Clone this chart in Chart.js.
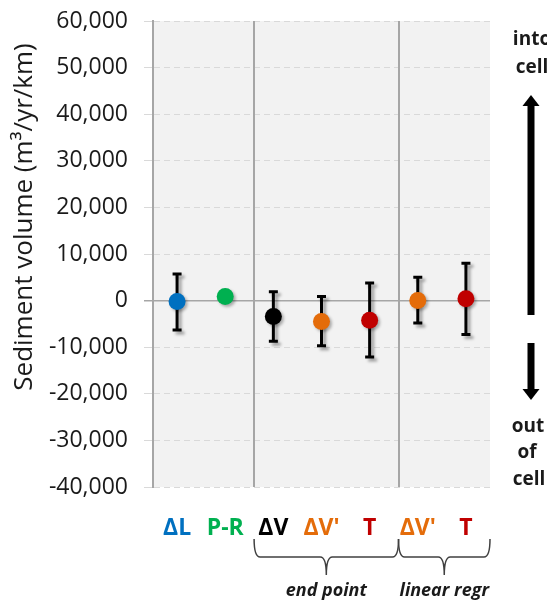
<!DOCTYPE html>
<html>
<head>
<meta charset="utf-8">
<script src="https://cdn.jsdelivr.net/npm/chart.js@4.4.0/dist/chart.umd.min.js"></script>
<style>
    html, body { margin: 0; padding: 0; background: #fff; }
    #wrap { width: 547px; height: 601px; }
</style>
</head>
<body>
<div id="wrap"><canvas id="myChart"></canvas></div>
<script>
    // 数据
    var categories = ['ΔL', 'P-R', 'ΔV', "ΔV'", 'T', "ΔV'", 'T'];
    var labelColors = ['#0070c0', '#00b050', '#000000', '#e46c0a', '#c00000', '#e46c0a', '#c00000'];
    var volume = [-200, 900, -3400, -4500, -4200, 0, 400];
    var errHigh = [5700, null, 1900, 900, 3800, 5000, 8000];
    var errLow = [-6300, null, -8700, -9700, -12100, -4800, -7300];
    var yTicks = [-40000, -30000, -20000, -10000, 0, 10000, 20000, 30000, 40000, 50000, 60000];
    var groupNames = ['end point', 'linear regr'];
    var groupSplits = [1.6, 4.6]; // category positions of the grey dividers

    Chart.defaults.font.family = "'Open Sans', 'Noto Sans', sans-serif";
    Chart.defaults.color = '#1a1a1a';

    var decor = {
        id: 'decor',
        beforeDraw: function (chart) {
            var a = chart.chartArea, ctx = chart.ctx;
            ctx.save();
            ctx.fillStyle = '#f2f2f2';
            ctx.fillRect(a.left, a.top, a.right - a.left, a.bottom - a.top);
            ctx.restore();
        },
        beforeDatasetsDraw: function (chart) {
            var a = chart.chartArea, ctx = chart.ctx;
            var xs = chart.scales.x, ys = chart.scales.y;
            // 分隔线
            ctx.save();
            ctx.strokeStyle = '#a6a6a6';
            ctx.lineWidth = 2;
            groupSplits.forEach(function (v) {
                var x = Math.round(xs.getPixelForValue(v));
                ctx.beginPath();
                ctx.moveTo(x, a.top);
                ctx.lineTo(x, a.bottom);
                ctx.stroke();
            });
            ctx.restore();
            // 误差线
            ctx.save();
            ctx.shadowColor = 'rgba(0,0,0,0.35)';
            ctx.shadowBlur = 3;
            ctx.shadowOffsetX = 3;
            ctx.shadowOffsetY = 3;
            ctx.strokeStyle = '#000';
            ctx.lineWidth = 3;
            ctx.lineCap = 'butt';
            for (var i = 0; i < categories.length; i++) {
                if (errHigh[i] === null) continue;
                var x = xs.getPixelForValue(i);
                var y1 = ys.getPixelForValue(errHigh[i]);
                var y2 = ys.getPixelForValue(errLow[i]);
                ctx.beginPath();
                ctx.moveTo(x, y1);
                ctx.lineTo(x, y2);
                ctx.moveTo(x - 4.5, y1);
                ctx.lineTo(x + 4.5, y1);
                ctx.moveTo(x - 4.5, y2);
                ctx.lineTo(x + 4.5, y2);
                ctx.stroke();
            }
            ctx.restore();
            // 点的阴影
            ctx.save();
            ctx.shadowColor = 'rgba(0,0,0,0.3)';
            ctx.shadowBlur = 3;
            ctx.shadowOffsetX = 2;
            ctx.shadowOffsetY = 2;
        },
        afterDatasetsDraw: function (chart) {
            chart.ctx.restore();
        },
        afterDraw: function (chart) {
            var a = chart.chartArea, ctx = chart.ctx;
            var xs = chart.scales.x;
            ctx.save();
            // y 轴标题
            ctx.save();
            ctx.translate(25, 217);
            ctx.rotate(-Math.PI / 2);
            ctx.fillStyle = '#1a1a1a';
            ctx.font = "26px 'Open Sans'";
            ctx.textAlign = 'center';
            ctx.textBaseline = 'middle';
            ctx.fillText('Sediment volume (m³/yr/km)', 0, 0);
            ctx.restore();

            // 括号
            var xa = xs.getPixelForValue(groupSplits[0]);
            var xb = xs.getPixelForValue(groupSplits[1]);
            var spans = [[xa, xb], [xb, a.right]];
            ctx.strokeStyle = '#404040';
            ctx.lineWidth = 1.5;
            spans.forEach(function (s, k) {
                var x1 = s[0], x2 = s[1], xm = (x1 + x2) / 2;
                var y0 = 539, y1 = 557, y2 = 575, r = 6;
                ctx.beginPath();
                ctx.moveTo(x1, y0);
                ctx.quadraticCurveTo(x1, y1, x1 + r, y1);
                ctx.lineTo(xm - r, y1);
                ctx.quadraticCurveTo(xm, y1, xm, y2);
                ctx.quadraticCurveTo(xm, y1, xm + r, y1);
                ctx.lineTo(x2 - r, y1);
                ctx.quadraticCurveTo(x2, y1, x2, y0);
                ctx.stroke();
                ctx.fillStyle = '#1a1a1a';
                ctx.font = "italic bold 18px 'Open Sans'";
                ctx.textAlign = 'center';
                ctx.textBaseline = 'middle';
                ctx.fillText(groupNames[k], xm, 591);
            });

            // 右侧箭头
            var ax = 531;
            ctx.fillStyle = '#000';
            ctx.fillRect(ax - 3.5, 104, 7, 211);
            ctx.beginPath();
            ctx.moveTo(ax, 95);
            ctx.lineTo(ax + 8.5, 106);
            ctx.lineTo(ax - 8.5, 106);
            ctx.closePath();
            ctx.fill();
            ctx.fillRect(ax - 3.5, 343, 7, 48);
            ctx.beginPath();
            ctx.moveTo(ax, 400);
            ctx.lineTo(ax + 8.5, 389);
            ctx.lineTo(ax - 8.5, 389);
            ctx.closePath();
            ctx.fill();

            ctx.font = "bold 19px 'Open Sans'";
            ctx.textAlign = 'center';
            ctx.textBaseline = 'middle';
            ctx.fillStyle = '#1a1a1a';
            ctx.fillText('into', 532, 40);
            ctx.fillText('cell', 532, 68);
            ctx.fillText('out', 528, 427);
            ctx.fillText('of', 527, 453);
            ctx.fillText('cell', 529, 480);
            ctx.restore();
        }
    };

    var ctx = document.getElementById('myChart').getContext('2d');
    var myChart = new Chart(ctx, {
        type: 'line',
        data: {
            labels: categories,
            datasets: [{
                data: volume,
                showLine: false,
                pointRadius: 8.5,
                pointHoverRadius: 8.5,
                pointBorderWidth: 0,
                pointBackgroundColor: labelColors,
                pointBorderColor: labelColors
            }]
        },
        options: {
            responsive: true,
            maintainAspectRatio: false,
            animation: false,
            events: [],
            layout: { padding: { top: 21, right: 57, left: 0, bottom: 0 } },
            plugins: {
                legend: { display: false },
                tooltip: { enabled: false }
            },
            scales: {
                x: {
                    offset: true,
                    grid: { display: false, drawTicks: false },
                    border: { display: false },
                    ticks: {
                        padding: 28,
                        font: { size: 23, weight: 'bold' },
                        color: function (c) { return labelColors[c.index]; }
                    },
                    afterFit: function (scale) { scale.height = 114; }
                },
                y: {
                    min: -40000,
                    max: 60000,
                    afterBuildTicks: function (scale) {
                        scale.ticks = yTicks.map(function (v) { return { value: v }; });
                    },
                    grid: {
                        tickLength: 9,
                        color: function (c) { return c.tick && c.tick.value === 0 ? '#a6a6a6' : '#d9d9d9'; },
                        lineWidth: function (c) { return c.tick && c.tick.value === 0 ? 1.5 : 1; }
                    },
                    border: {
                        display: true,
                        color: '#a6a6a6',
                        width: 2,
                        dash: function (c) { return c.tick && c.tick.value === 0 ? [] : [6, 4]; }
                    },
                    ticks: {
                        padding: 16,
                        font: { size: 23 },
                        color: '#1a1a1a',
                        callback: function (v) { return v.toLocaleString('en-US'); }
                    },
                    afterFit: function (scale) {
                        scale.width = 153;
                        scale.paddingTop = 0;
                        scale.paddingBottom = 0;
                    }
                }
            }
        },
        plugins: [decor]
    });
</script>
</body>
</html>
